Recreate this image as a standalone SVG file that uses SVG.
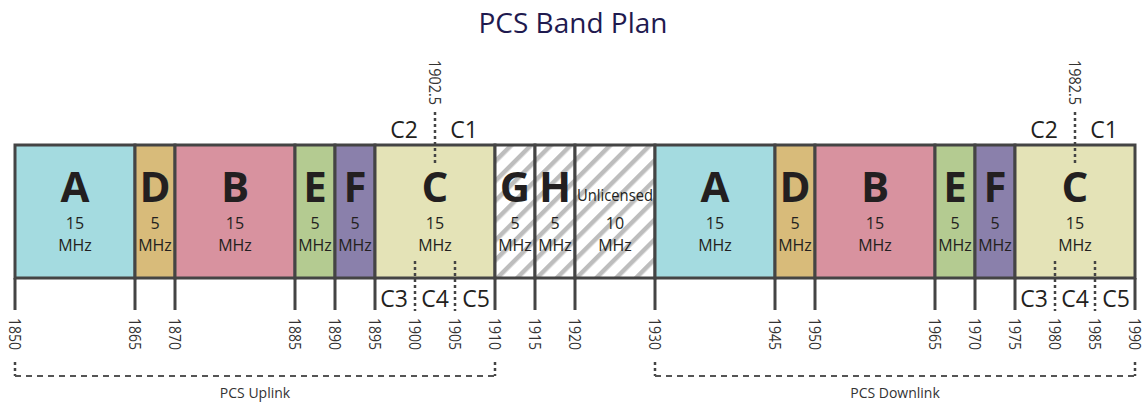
<svg xmlns="http://www.w3.org/2000/svg" width="1146" height="407" viewBox="0 0 1146 407">
<style>
.band{stroke:#444;stroke-width:3}
.big{font-family:"Open Sans","Noto Sans",sans-serif;font-weight:bold;font-size:42px;fill:#231f20;text-anchor:middle}
.num{font-family:"Open Sans","Noto Sans",sans-serif;font-size:16px;fill:#231f20;text-anchor:middle}
.cl{font-family:"Open Sans","Noto Sans",sans-serif;font-size:23px;fill:#231f20;text-anchor:middle}
.tick{stroke:#444;stroke-width:3}
.dot{stroke:#444;stroke-width:2.5;stroke-dasharray:3 3;fill:none}
.dash{stroke:#555;stroke-width:2;stroke-dasharray:6 5;fill:none}
.vdot{stroke:#444;stroke-width:2.5;stroke-dasharray:3 3;fill:none}
.fl{font-family:"Open Sans","Noto Sans",sans-serif;font-size:17px;fill:#333}
.lbl{font-family:"Open Sans","Noto Sans",sans-serif;font-size:14px;fill:#333;text-anchor:middle}
</style>
<defs>
<pattern id="hatch" patternUnits="userSpaceOnUse" width="14" height="14" patternTransform="rotate(45)">
<rect width="14" height="14" fill="#fff"/>
<rect x="0" y="0" width="4.5" height="14" fill="#bdbdbd"/>
</pattern>
</defs>
<text x="573" y="33" font-family="'Open Sans','Noto Sans',sans-serif" font-size="28" fill="#1f1a4f" text-anchor="middle">PCS Band Plan</text>

<g id="uA"><rect class="band" x="15" y="145" width="120" height="133" fill="#a4dbe0"/><text class="big" x="75" y="202">A</text><text class="num" x="75" y="229">15</text><text class="num" x="75" y="251">MHz</text></g>
<g id="uD"><rect class="band" x="135" y="145" width="40" height="133" fill="#d8bb7a"/><text class="big" x="155" y="202">D</text><text class="num" x="155" y="229">5</text><text class="num" x="155" y="251">MHz</text></g>
<g id="uB"><rect class="band" x="175" y="145" width="120" height="133" fill="#d8929f"/><text class="big" x="235" y="202">B</text><text class="num" x="235" y="229">15</text><text class="num" x="235" y="251">MHz</text></g>
<g id="uE"><rect class="band" x="295" y="145" width="40" height="133" fill="#b4cb91"/><text class="big" x="315" y="202">E</text><text class="num" x="315" y="229">5</text><text class="num" x="315" y="251">MHz</text></g>
<g id="uF"><rect class="band" x="335" y="145" width="40" height="133" fill="#8a80ab"/><text class="big" x="355" y="202">F</text><text class="num" x="355" y="229">5</text><text class="num" x="355" y="251">MHz</text></g>
<g id="uC"><rect class="band" x="375" y="145" width="120" height="133" fill="#e4e3b7"/><text class="big" x="435" y="202">C</text><text class="num" x="435" y="229">15</text><text class="num" x="435" y="251">MHz</text></g>
<g id="G"><rect class="band" x="495" y="145" width="40" height="133" fill="url(#hatch)"/><text class="big" x="515" y="202">G</text><text class="num" x="515" y="229">5</text><text class="num" x="515" y="251">MHz</text></g>
<g id="H"><rect class="band" x="535" y="145" width="40" height="133" fill="url(#hatch)"/><text class="big" x="555" y="202">H</text><text class="num" x="555" y="229">5</text><text class="num" x="555" y="251">MHz</text></g>
<g id="UL"><rect class="band" x="575" y="145" width="80" height="133" fill="url(#hatch)"/><text class="num" x="615" y="201" textLength="76" lengthAdjust="spacingAndGlyphs">Unlicensed</text><text class="num" x="615" y="229">10</text><text class="num" x="615" y="251">MHz</text></g>
<g id="dA"><rect class="band" x="655" y="145" width="120" height="133" fill="#a4dbe0"/><text class="big" x="715" y="202">A</text><text class="num" x="715" y="229">15</text><text class="num" x="715" y="251">MHz</text></g>
<g id="dD"><rect class="band" x="775" y="145" width="40" height="133" fill="#d8bb7a"/><text class="big" x="795" y="202">D</text><text class="num" x="795" y="229">5</text><text class="num" x="795" y="251">MHz</text></g>
<g id="dB"><rect class="band" x="815" y="145" width="120" height="133" fill="#d8929f"/><text class="big" x="875" y="202">B</text><text class="num" x="875" y="229">15</text><text class="num" x="875" y="251">MHz</text></g>
<g id="dE"><rect class="band" x="935" y="145" width="40" height="133" fill="#b4cb91"/><text class="big" x="955" y="202">E</text><text class="num" x="955" y="229">5</text><text class="num" x="955" y="251">MHz</text></g>
<g id="dF"><rect class="band" x="975" y="145" width="40" height="133" fill="#8a80ab"/><text class="big" x="995" y="202">F</text><text class="num" x="995" y="229">5</text><text class="num" x="995" y="251">MHz</text></g>
<g id="dC"><rect class="band" x="1015" y="145" width="120" height="133" fill="#e4e3b7"/><text class="big" x="1075" y="202">C</text><text class="num" x="1075" y="229">15</text><text class="num" x="1075" y="251">MHz</text></g>

<g id="connectors">
<path class="tick" d="M15 278V310M135 278V310M175 278V310M295 278V310M335 278V310M375 278V310M495 278V310M535 278V310M575 278V310M655 278V310M775 278V310M815 278V310M935 278V310M975 278V310M1015 278V310M1135 278V310"/>
<path class="dot" d="M435 112V165M415 261V311M455 261V311M1075 112V165M1055 261V311M1095 261V311"/>
<path class="vdot" d="M15 362V376M495 362V376M655 362V376M1135 362V376"/>
<path class="dash" d="M15 376H495M655 376H1135"/>
</g>

<g id="clabels">
<text class="cl" x="404" y="138">C2</text><text class="cl" x="464" y="138">C1</text>
<text class="cl" x="394" y="307">C3</text><text class="cl" x="435" y="307">C4</text><text class="cl" x="476" y="307">C5</text>
<text class="cl" x="1044" y="138">C2</text><text class="cl" x="1104" y="138">C1</text>
<text class="cl" x="1034" y="307">C3</text><text class="cl" x="1075" y="307">C4</text><text class="cl" x="1116" y="307">C5</text>
<text class="fl" transform="translate(435,60) rotate(90)" dy="6" textLength="45" lengthAdjust="spacingAndGlyphs">1902.5</text>
<text class="fl" transform="translate(1075,60) rotate(90)" dy="6" textLength="45" lengthAdjust="spacingAndGlyphs">1982.5</text>
</g>

<g id="ticklabels">
<text class="fl" transform="translate(15,318) rotate(90)" dy="6" textLength="32" lengthAdjust="spacingAndGlyphs">1850</text>
<text class="fl" transform="translate(135,318) rotate(90)" dy="6" textLength="32" lengthAdjust="spacingAndGlyphs">1865</text>
<text class="fl" transform="translate(175,318) rotate(90)" dy="6" textLength="32" lengthAdjust="spacingAndGlyphs">1870</text>
<text class="fl" transform="translate(295,318) rotate(90)" dy="6" textLength="32" lengthAdjust="spacingAndGlyphs">1885</text>
<text class="fl" transform="translate(335,318) rotate(90)" dy="6" textLength="32" lengthAdjust="spacingAndGlyphs">1890</text>
<text class="fl" transform="translate(375,318) rotate(90)" dy="6" textLength="32" lengthAdjust="spacingAndGlyphs">1895</text>
<text class="fl" transform="translate(415,318) rotate(90)" dy="6" textLength="32" lengthAdjust="spacingAndGlyphs">1900</text>
<text class="fl" transform="translate(455,318) rotate(90)" dy="6" textLength="32" lengthAdjust="spacingAndGlyphs">1905</text>
<text class="fl" transform="translate(495,318) rotate(90)" dy="6" textLength="32" lengthAdjust="spacingAndGlyphs">1910</text>
<text class="fl" transform="translate(535,318) rotate(90)" dy="6" textLength="32" lengthAdjust="spacingAndGlyphs">1915</text>
<text class="fl" transform="translate(575,318) rotate(90)" dy="6" textLength="32" lengthAdjust="spacingAndGlyphs">1920</text>
<text class="fl" transform="translate(655,318) rotate(90)" dy="6" textLength="32" lengthAdjust="spacingAndGlyphs">1930</text>
<text class="fl" transform="translate(775,318) rotate(90)" dy="6" textLength="32" lengthAdjust="spacingAndGlyphs">1945</text>
<text class="fl" transform="translate(815,318) rotate(90)" dy="6" textLength="32" lengthAdjust="spacingAndGlyphs">1950</text>
<text class="fl" transform="translate(935,318) rotate(90)" dy="6" textLength="32" lengthAdjust="spacingAndGlyphs">1965</text>
<text class="fl" transform="translate(975,318) rotate(90)" dy="6" textLength="32" lengthAdjust="spacingAndGlyphs">1970</text>
<text class="fl" transform="translate(1015,318) rotate(90)" dy="6" textLength="32" lengthAdjust="spacingAndGlyphs">1975</text>
<text class="fl" transform="translate(1055,318) rotate(90)" dy="6" textLength="32" lengthAdjust="spacingAndGlyphs">1980</text>
<text class="fl" transform="translate(1095,318) rotate(90)" dy="6" textLength="32" lengthAdjust="spacingAndGlyphs">1985</text>
<text class="fl" transform="translate(1135,318) rotate(90)" dy="6" textLength="32" lengthAdjust="spacingAndGlyphs">1990</text>
</g>

<g id="ranges">
<text class="lbl" x="255" y="398">PCS Uplink</text>
<text class="lbl" x="895" y="398">PCS Downlink</text>
</g>
</svg>
